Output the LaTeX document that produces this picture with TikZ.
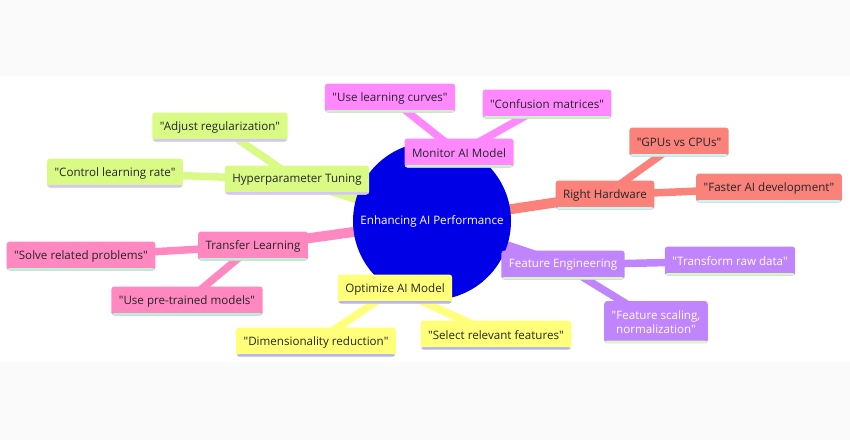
\documentclass[tikz,border=0pt]{standalone}
\usepackage{fontspec}
\setmainfont{Open Sans}[Ligatures=TeXOff]
\usetikzlibrary{backgrounds}
\definecolor{rootblue}{RGB}{0,0,230}
\definecolor{bandgray}{RGB}{250,250,250}
\definecolor{hypfill}{RGB}{217,250,133}
\definecolor{hypline}{RGB}{214,196,255}
\definecolor{monfill}{RGB}{255,136,255}
\definecolor{monline}{RGB}{196,245,196}
\definecolor{hwfill}{RGB}{250,130,122}
\definecolor{hwline}{RGB}{196,248,248}
\definecolor{fefill}{RGB}{192,132,252}
\definecolor{feline}{RGB}{214,250,190}
\definecolor{optfill}{RGB}{255,255,122}
\definecolor{optline}{RGB}{180,180,255}
\definecolor{trfill}{RGB}{255,136,192}
\definecolor{trline}{RGB}{186,242,216}
\begin{document}
\begin{tikzpicture}[x=1pt,y=-1pt,font=\fontsize{11.6}{14.5}\selectfont,
  box/.style={rectangle,rounded corners=3pt,fill=#1fill,text=black!85,
    inner xsep=7.5pt,inner ysep=4pt,minimum height=29pt,align=center,
    path picture={\fill[#1line] ([yshift=-1pt]path picture bounding box.south west)
      rectangle ([yshift=2.5pt]path picture bounding box.south east);}},
  link/.style={line width=10pt,#1fill},
  twig/.style={line width=7.5pt,#1fill}]
\useasboundingbox (0,0) rectangle (850,440);
\node[circle,fill=rootblue,text=white,minimum size=158pt,inner sep=0pt] (root) at (432,221) {Enhancing AI Performance};
\node[box=hyp] (hyp) at (297,180) {Hyperparameter Tuning};
\node[box=hyp] (hyp1) at (220,127) {"Adjust regularization"};
\node[box=hyp] (hyp2) at (115,173) {"Control learning rate"};
\node[box=mon] (mon) at (459,153) {Monitor AI Model};
\node[box=mon] (mon1) at (390,98) {"Use learning curves"};
\node[box=mon] (mon2) at (547,104) {"Confusion matrices"};
\node[box=hw] (hw) at (605,195) {Right Hardware};
\node[box=hw] (hw1) at (679,142) {"GPUs vs CPUs"};
\node[box=hw] (hw2) at (769,188) {"Faster AI development"};
\node[box=fe,text=white] (fe) at (563,265) {Feature Engineering};
\node[box=fe,text=white] (fe1) at (730,261) {"Transform raw data"};
\node[box=fe,text=white,minimum height=42pt,minimum width=103pt] (fe2) at (656,322) {"Feature scaling,\\normalization"};
\node[box=opt] (opt) at (395,289) {Optimize AI Model};
\node[box=opt] (opt1) at (316,342) {"Dimensionality reduction"};
\node[box=opt] (opt2) at (496,335) {"Select relevant features"};
\node[box=tr] (tr) at (253,246) {Transfer Learning};
\node[box=tr] (tr1) at (81,256) {"Solve related problems"};
\node[box=tr] (tr2) at (187,301) {"Use pre-trained models"};
\begin{scope}[on background layer]
\fill[bandgray] (0,0) rectangle (850,76);
\fill[bandgray] (0,362) rectangle (850,440);
\draw[link=hyp] (root.center) -- (hyp.center);
\draw[link=mon] (root.center) -- (mon.center);
\draw[link=hw] (root.center) -- (hw.center);
\draw[link=fe] (root.center) -- (fe.center);
\draw[link=opt] (root.center) -- (opt.center);
\draw[link=tr] (root.center) -- (tr.center);
\draw[twig=hyp] (hyp.center) -- (hyp1.center);
\draw[twig=hyp] (hyp.center) -- (hyp2.center);
\draw[twig=mon] (mon.center) -- (mon1.center);
\draw[twig=mon] (mon.center) -- (mon2.center);
\draw[twig=hw] (hw.center) -- (hw1.center);
\draw[twig=hw] (hw.center) -- (hw2.center);
\draw[twig=fe] (fe.center) -- (fe1.center);
\draw[twig=fe] (fe.center) -- (fe2.center);
\draw[twig=opt] (opt.center) -- (opt1.center);
\draw[twig=opt] (opt.center) -- (opt2.center);
\draw[twig=tr] (tr.center) -- (tr1.center);
\draw[twig=tr] (tr.center) -- (tr2.center);
\end{scope}
\end{tikzpicture}
\end{document}
